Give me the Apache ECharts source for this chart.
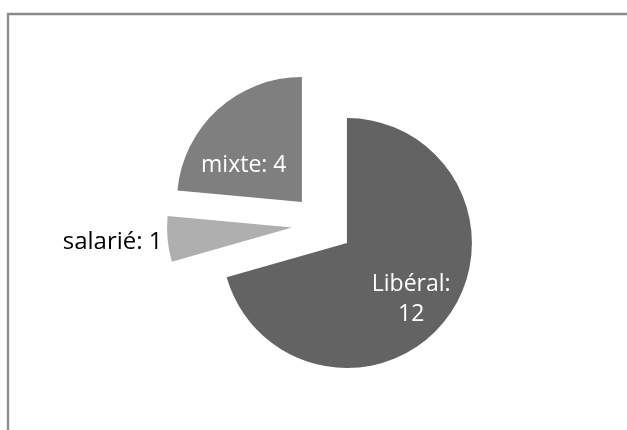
<!DOCTYPE html>
<html>
<head>
<meta charset="utf-8">
<script src="https://cdn.jsdelivr.net/npm/echarts@6/dist/echarts.min.js"></script>
<style>
html,body{margin:0;padding:0;background:#ffffff;}
#chart{width:627px;height:430px;}
</style>
</head>
<body>
<div id="chart"></div>
<script>
// Data
const categories = ['Libéral', 'salarié', 'mixte'];
const values = [12, 1, 4];

// Styles
const sliceColors = ['#636363', '#afafaf', '#7f7f7f'];
const labelFormats = ['{b}:\n{c}', '{b}: {c}', '{b}: {c}'];
const labelPositions = ['inside', 'outside', 'inside'];
const labelColors = ['#ffffff', '#000000', '#ffffff'];
const labelSizes = [23, 24, 23];
const labelShift = [[12, 17], [-1, 3], [-14, 12]];

const chart = echarts.init(document.getElementById('chart'), null, {renderer: 'canvas'});

const data = categories.map((name, i) => ({
  name: name,
  value: values[i],
  selected: true,
  itemStyle: {color: sliceColors[i]},
  label: {
    position: labelPositions[i],
    formatter: labelFormats[i],
    color: labelColors[i],
    fontSize: labelSizes[i]
  }
}));

chart.setOption({
  animation: false,
  backgroundColor: '#ffffff',
  graphic: [{
    type: 'rect',
    shape: {x: 8, y: 14, width: 700, height: 500},
    style: {fill: 'none', stroke: '#8a8a8a', lineWidth: 2.3},
    silent: true,
    z: 0
  }],
  series: [{
    type: 'pie',
    center: [322.5, 224.6],
    radius: [0, 125],
    startAngle: 90,
    clockwise: true,
    selectedMode: 'multiple',
    selectedOffset: 30.6,
    avoidLabelOverlap: false,
    emphasis: {disabled: true, scale: false},
    itemStyle: {borderWidth: 0},
    label: {
      show: true,
      fontFamily: 'Open Sans',
      fontSize: 23,
      lineHeight: 30,
      distanceToLabelLine: 4,
      align: 'center'
    },
    labelLine: {show: false, length: 0, length2: 0},
    labelLayout: function (params) {
      const s = labelShift[params.dataIndex];
      return {dx: s[0], dy: s[1]};
    },
    data: data
  }]
});
</script>
</body>
</html>
